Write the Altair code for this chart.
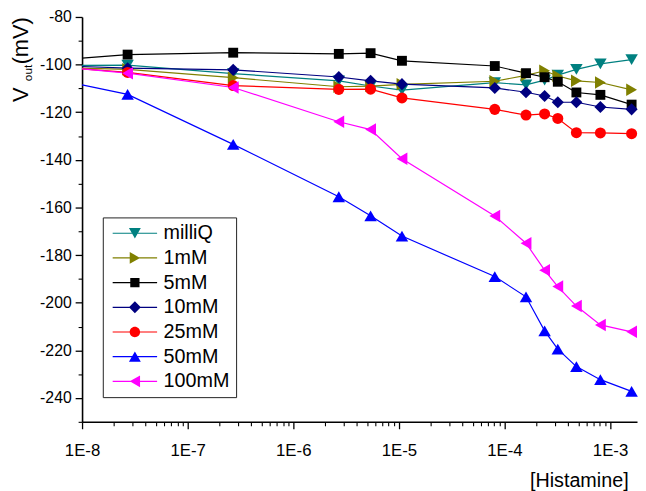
import altair as alt
import pandas as pd

# ---- data ----
conc = [1e-8, 2.7e-8, 2.7e-7, 2.7e-6, 5.4e-6, 1.07e-5, 8.1e-5, 1.6e-4, 2.4e-4, 3.2e-4, 4.8e-4, 8.1e-4, 1.6e-3]

series_names = ["milliQ", "1mM", "5mM", "10mM", "25mM", "50mM", "100mM"]

v_milliQ = [-100.3, -100.2, -103.8, -106.8, -109.0, -110.7, -107.6, -108.5, -106.5, -104.4, -102.0, -99.7, -97.9]
v_1mM = [-101.5, -102.0, -105.5, -109.3, -109.0, -108.3, -107.0, -104.5, -102.6, -104.8, -106.8, -107.5, -110.6]
v_5mM = [-97.3, -95.8, -95.0, -95.5, -95.2, -98.4, -100.6, -103.6, -105.3, -107.2, -111.7, -112.7, -116.8]
v_10mM = [-100.8, -101.5, -102.2, -105.2, -106.8, -108.2, -109.8, -111.6, -113.2, -115.8, -115.8, -117.8, -118.8]
v_25mM = [-101.8, -103.3, -108.8, -110.4, -110.3, -114.0, -118.8, -121.2, -120.7, -122.6, -128.6, -128.7, -129.0]
v_50mM = [-108.5, -112.5, -133.5, -155.5, -163.5, -172.0, -189.0, -197.5, -211.8, -219.5, -226.8, -232.3, -237.2]
v_100mM = [-101.8, -103.6, -109.6, -124.0, -127.3, -139.5, -163.6, -175.0, -186.3, -193.2, -201.4, -209.3, -212.2]

x_major = [1e-8, 1e-7, 1e-6, 1e-5, 1e-4, 1e-3]
x_minor = [k * 10.0 ** d for d in range(-8, -3) for k in range(2, 10)]
y_major = [-80, -100, -120, -140, -160, -180, -200, -220, -240]
y_minor = [-90, -110, -130, -150, -170, -190, -210, -230, -250]

# ---- styles ----
colors = ["#008080", "#808000", "#000000", "#000080", "#FF0000", "#0000FF", "#FF00FF"]
shapes = ["triangle-down", "triangle-right", "square", "diamond", "circle", "triangle-up", "triangle-left"]
msizes = [160, 160, 100, 150, 125, 160, 160]
FONT = "Liberation Sans"

all_vals = [v_milliQ, v_1mM, v_5mM, v_10mM, v_25mM, v_50mM, v_100mM]
rows = []
for name, vals in zip(series_names, all_vals):
    for i, (c, v) in enumerate(zip(conc, vals)):
        rows.append({"series": name, "conc": c, "v": v, "idx": i})
df = pd.DataFrame(rows)

# legend symbols: thin filled bar (the line) + marker, all sub-paths clockwise
# (unit coords, scaled by sqrt(size)/2)
line_seg = "M-3.75,-0.1L3.75,-0.1L3.75,0.1L-3.75,0.1Z"
legend_paths = {
    "milliQ": line_seg + "M-1,-0.87L1,-0.87L0,0.87Z",
    "1mM": line_seg + "M-0.87,-1L0.87,0L-0.87,1Z",
    "5mM": line_seg + "M-0.78,-0.78L0.78,-0.78L0.78,0.78L-0.78,0.78Z",
    "10mM": line_seg + "M-1,0L0,-1L1,0L0,1Z",
    "25mM": line_seg + "M-0.88,0A0.88,0.88,0,1,1,0.88,0A0.88,0.88,0,1,1,-0.88,0Z",
    "50mM": line_seg + "M-1,0.87L0,-0.87L1,0.87Z",
    "100mM": line_seg + "M0.87,-1L0.87,1L-0.87,0Z",
}
expr = ""
for name in series_names[:-1]:
    expr += f"datum.value === '{name}' ? '{legend_paths[name]}' : "
expr += f"'{legend_paths[series_names[-1]]}'"

size_expr = "[" + ",".join(str(s) for s in msizes) + "][indexof([" + ",".join(f"'{n}'" for n in series_names) + "], datum.series)]"

x_scale = alt.Scale(type="log", domain=[1e-8, 1.8e-3], nice=False)
y_scale = alt.Scale(domain=[-250, -80], nice=False, zero=False)
color_scale = alt.Scale(domain=series_names, range=colors)
# shape scale listed in reverse order so that it is not merged into the colour legend
shape_scale = alt.Scale(domain=series_names[::-1], range=shapes[::-1])

legend = alt.Legend(
    title=None,
    orient="none",
    legendX=21,
    legendY=203,
    strokeColor="#222222",
    fillColor="white",
    padding=6,
    labelFont=FONT,
    labelFontSize=20,
    labelColor="black",
    symbolType={"expr": expr},
    symbolFillColor={"expr": "scale('color', datum.value)"},
    symbolSize=144,
    symbolStrokeWidth=0,
    symbolOffset=16.5,
    labelOffset=19,
    rowPadding=5,
)

x_axis_major = alt.Axis(
    values=x_major,
    labelExpr="'1E-' + round(-log(datum.value) / LN10)",
    grid=False, orient="bottom",
    tickSize=7, tickWidth=1.3, tickColor="black",
    domainWidth=1.6, domainColor="black",
    labelFont=FONT, labelFontSize=17, labelColor="black", labelPadding=14,
    labelFlush=False, labelOverlap=False,
    title="[Histamine]", titleFont=FONT, titleFontSize=20, titleFontWeight="normal",
    titleColor="black", titleAlign="right", titleAnchor="end", titleX=553, titleY=60,
    titleBaseline="middle",
)
x_axis_minor = alt.Axis(
    values=x_minor, labels=False, domain=False, grid=False, orient="bottom",
    tickSize=4, tickWidth=1.1, tickColor="black", title=None,
)
y_axis_major = alt.Axis(
    values=y_major,
    labelExpr="datum.value < 0 ? '-' + abs(datum.value) : '' + datum.value",
    grid=False, orient="left",
    tickSize=7, tickWidth=1.3, tickColor="black",
    domainWidth=1.6, domainColor="black",
    labelFont=FONT, labelFontSize=16, labelColor="black", labelPadding=4,
    labelFlush=False, labelOverlap=False, title=None,
)
y_axis_minor = alt.Axis(
    values=y_minor, labels=False, domain=False, grid=False, orient="left",
    tickSize=4, tickWidth=1.1, tickColor="black", title=None,
)

base = alt.Chart(df)

lines = base.mark_line(strokeWidth=1.2).encode(
    x=alt.X("conc:Q", scale=x_scale, axis=x_axis_major),
    y=alt.Y("v:Q", scale=y_scale, axis=y_axis_major),
    color=alt.Color("series:N", scale=color_scale, legend=legend),
    detail="series:N",
    order="idx:Q",
)

points = base.transform_filter(alt.datum.idx > 0).transform_calculate(
    msize=size_expr, mk="datum.series"
).mark_point(filled=True, opacity=1).encode(
    x=alt.X("conc:Q", scale=x_scale, axis=x_axis_minor),
    y=alt.Y("v:Q", scale=y_scale, axis=y_axis_minor),
    color=alt.Color("series:N", scale=color_scale, legend=legend),
    shape=alt.Shape("mk:N", scale=shape_scale, legend=None),
    size=alt.Size("msize:Q", scale=None),
)

one = alt.Data(values=[{"a": 1}])
t_v = alt.Chart(one).mark_text(angle=270, align="left", baseline="middle", font=FONT, fontSize=22, color="black").encode(
    x=alt.value(-62), y=alt.value(86), text=alt.value("V"))
t_out = alt.Chart(one).mark_text(angle=270, align="left", baseline="middle", font=FONT, fontSize=12, color="black").encode(
    x=alt.value(-55), y=alt.value(65), text=alt.value("out"))
t_mv = alt.Chart(one).mark_text(angle=270, align="left", baseline="middle", font=FONT, fontSize=22, color="black").encode(
    x=alt.value(-62), y=alt.value(48), text=alt.value("(mV)"))

chart = alt.layer(lines, points, t_v, t_out, t_mv).resolve_axis(
    x="independent", y="independent"
).properties(
    width=562, height=410,
    padding={"left": 75, "top": 6, "right": 1, "bottom": 70},
    autosize=alt.AutoSizeParams(type="none"),
    background="white",
).configure_view(stroke=None)

chart.save("out.html", embed_options={"renderer": "svg", "actions": False})
